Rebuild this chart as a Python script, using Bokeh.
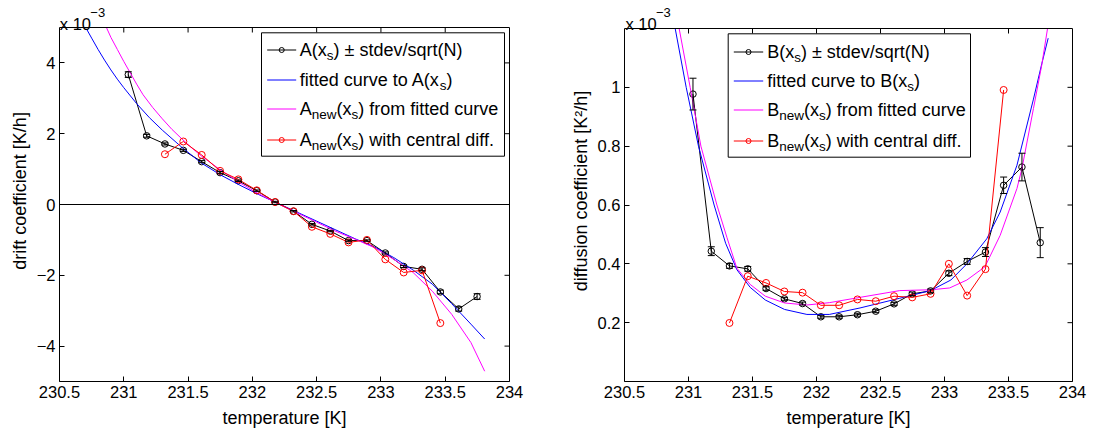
from bokeh.plotting import figure
from bokeh.models import (ColumnDataSource, Whisker, TeeHead, Span,
                          FixedTicker, LinearAxis, Range1d)
from bokeh.layouts import row
from bokeh.embed import file_html
from bokeh.resources import INLINE
from bokeh.core.properties import value

FONT = "Liberation Sans"
BLACK, BLUE, MAGENTA, RED = "#000000", "#0000ff", "#ff00ff", "#ff0000"

# ---------------- data (values in units of 1e-3) ----------------
x_s = [231.035, 231.178, 231.320, 231.463, 231.606, 231.749, 231.891, 232.034,
       232.177, 232.320, 232.463, 232.606, 232.748, 232.891, 233.034, 233.177,
       233.320, 233.462, 233.605, 233.748]

A_mean = [3.67, 1.94, 1.71, 1.53, 1.21, 0.90, 0.67, 0.39, 0.07, -0.19,
          -0.56, -0.75, -1.02, -1.02, -1.37, -1.75, -1.83, -2.47, -2.95, -2.60]
A_err = [0.08, 0.04, 0.03, 0.03, 0.03, 0.03, 0.02, 0.02, 0.02, 0.02,
         0.02, 0.02, 0.02, 0.02, 0.03, 0.03, 0.04, 0.05, 0.06, 0.08]
A_cd_x = x_s[2:18]
A_cd = [1.42, 1.78, 1.40, 0.95, 0.71, 0.40, 0.07, -0.19, -0.63, -0.83,
        -1.07, -1.00, -1.55, -1.92, -1.86, -3.35]

A_fit_x = [230.71, 230.75, 230.80, 230.85, 230.90, 230.95, 231.00, 231.10,
           231.20, 231.30, 231.45, 231.60, 231.75, 231.90, 232.05, 232.20,
           232.35, 232.50, 232.65, 232.80, 232.95, 233.10, 233.25, 233.40,
           233.55, 233.70, 233.807]
A_fit = [4.96, 4.70, 4.38, 4.08, 3.80, 3.54, 3.30, 2.85, 2.45, 2.10, 1.62,
         1.18, 0.84, 0.55, 0.28, 0.03, -0.22, -0.47, -0.72, -0.97, -1.20,
         -1.50, -1.85, -2.25, -2.80, -3.38, -3.80]

A_new_x = [230.865, 230.90, 230.95, 231.00, 231.05, 231.10, 231.15, 231.225,
           231.30, 231.375, 231.45, 231.525, 231.60, 231.75, 231.90, 232.05,
           232.20, 232.35, 232.50, 232.65, 232.80, 232.95, 233.10, 233.25,
           233.40, 233.55, 233.70, 233.807]
A_new = [5.00, 4.72, 4.38, 4.04, 3.72, 3.40, 3.10, 2.74, 2.42, 2.12, 1.86,
         1.61, 1.38, 0.98, 0.62, 0.30, 0.02, -0.24, -0.50, -0.76, -0.98,
         -1.22, -1.55, -1.92, -2.45, -3.10, -3.90, -4.71]

B_mean = [0.977, 0.443, 0.393, 0.383, 0.316, 0.281, 0.265, 0.220, 0.220, 0.227,
          0.239, 0.264, 0.298, 0.308, 0.368, 0.408, 0.440, 0.667, 0.729, 0.472]
B_err = [0.054, 0.015, 0.008, 0.008, 0.006, 0.005, 0.005, 0.005, 0.005, 0.005,
         0.005, 0.005, 0.006, 0.006, 0.008, 0.010, 0.015, 0.028, 0.047, 0.051]
B_cd_x = x_s[2:18]
B_cd = [0.199, 0.358, 0.335, 0.306, 0.302, 0.259, 0.259, 0.279, 0.273, 0.290,
        0.286, 0.298, 0.400, 0.292, 0.382, 0.991]

B_fit_x = [230.896, 230.982, 231.078, 231.20, 231.29, 231.378, 231.482, 231.60,
           231.75, 231.925, 232.10, 232.34, 232.65, 232.89, 233.05, 233.175,
           233.33, 233.435, 233.566, 233.695, 233.76, 233.81]
B_fit = [1.20, 1.00, 0.80, 0.60, 0.47, 0.38, 0.32, 0.277, 0.245, 0.228, 0.228,
         0.250, 0.283, 0.309, 0.345, 0.400, 0.485, 0.576, 0.735, 0.960, 1.080,
         1.167]

B_new_x = [230.927, 231.013, 231.097, 231.222, 231.30, 231.378, 231.482, 231.60,
           231.75, 231.925, 232.10, 232.34, 232.65, 232.90, 233.04, 233.175,
           233.316, 233.435, 233.566, 233.605, 233.695, 233.76, 233.805]
B_new = [1.20, 1.00, 0.80, 0.60, 0.49, 0.385, 0.33, 0.29, 0.267, 0.26, 0.268,
         0.286, 0.309, 0.312, 0.318, 0.345, 0.39, 0.497, 0.656, 0.724, 0.928,
         1.076, 1.20]

x_ticks = [230.5, 231, 231.5, 232, 232.5, 233, 233.5, 234]
x_tick_labels = ["230.5", "231", "231.5", "232", "232.5", "233", "233.5", "234"]
A_ticks = [-4, -2, 0, 2, 4]
A_tick_labels = ["\u22124", "\u22122", "0", "2", "4"]
B_ticks = [0.2, 0.4, 0.6, 0.8, 1.0]
B_tick_labels = ["0.2", "0.4", "0.6", "0.8", "1"]

x_label = "temperature [K]"
A_label = "drift coefficient [K/h]"
B_label = "diffusion coefficient [K\u00b2/h]"
exp_base = "x 10"
exp_power = "\u22123"

# legend rows: list of (text, is_subscript)
legend_A = [
    [("A(x", 0), ("s", 1), (") \u00b1 stdev/sqrt(N)", 0)],
    [("fitted curve to A(x", 0), ("s", 1), (")", 0)],
    [("A", 0), ("new", 1), ("(x", 0), ("s", 1), (") from fitted curve", 0)],
    [("A", 0), ("new", 1), ("(x", 0), ("s", 1), (") with central diff.", 0)],
]
legend_B = [
    [("B(x", 0), ("s", 1), (") \u00b1 stdev/sqrt(N)", 0)],
    [("fitted curve to B(x", 0), ("s", 1), (")", 0)],
    [("B", 0), ("new", 1), ("(x", 0), ("s", 1), (") from fitted curve", 0)],
    [("B", 0), ("new", 1), ("(x", 0), ("s", 1), (") with central diff.", 0)],
]
legend_styles = [(BLACK, True), (BLUE, False), (MAGENTA, False), (RED, True)]

# ---------------- helpers ----------------
W = {' ': 278, '(': 333, ')': 333, '.': 278, '/': 278, 'A': 667, 'B': 667,
     'N': 722, 'a': 556, 'c': 500, 'd': 556, 'e': 556, 'f': 278, 'h': 556,
     'i': 222, 'l': 222, 'm': 833, 'n': 556, 'o': 556, 'q': 556, 'r': 333,
     's': 500, 't': 278, 'u': 556, 'v': 500, 'w': 722, 'x': 500, '\u00b1': 549}


def tw(s, size):
    return sum(W.get(c, 556) for c in s) * size / 1000.0


XR = (230.5, 234.0)
PAGE_H = 429


class Panel:
    """Maps page pixels to data for one subplot."""

    def __init__(self, page_left, fig_w, frame_l, frame_r, box_t, box_b, yr):
        self.page_left = page_left
        self.fig_w = fig_w
        self.fl, self.fr, self.bt, self.bb = frame_l, frame_r, box_t, box_b
        self.yr = yr
        self.ppx = (frame_r - frame_l) / (XR[1] - XR[0])
        self.ppy = (box_b - box_t) / (yr[1] - yr[0])
        self.ytop = yr[1] + box_t / self.ppy   # frame reaches the page top

    def X(self, px):
        return XR[0] + (px - self.fl) / self.ppx

    def Y(self, py):
        return self.yr[0] + (self.bb - py) / self.ppy


def make_fig(P, ylabel, yticks, ylabels):
    fw = int(round(P.fr - P.fl))
    fh = int(round(P.bb))
    bl = int(round(P.fl - P.page_left))
    br = P.fig_w - bl - fw
    bb = PAGE_H - fh
    p = figure(x_range=Range1d(*XR), y_range=Range1d(P.yr[0], P.ytop),
               frame_width=fw, frame_height=fh,
               width=P.fig_w, height=PAGE_H,
               min_border_left=bl, min_border_right=br,
               min_border_top=0, min_border_bottom=bb,
               title=None, toolbar_location=None, tools="",
               output_backend="svg")
    p.xgrid.visible = False
    p.ygrid.visible = False
    p.outline_line_color = None
    p.background_fill_color = "white"
    p.border_fill_color = "white"

    def style(ax, ticks, labels):
        ax.ticker = FixedTicker(ticks=ticks)
        ax.axis_line_color = BLACK
        ax.major_tick_line_color = BLACK
        ax.major_tick_in = 5
        ax.major_tick_out = 0
        ax.minor_tick_in = 0
        ax.minor_tick_out = 0
        ax.minor_tick_line_color = None
        ax.major_label_overrides = {t: l for t, l in zip(ticks, labels)}
        ax.major_label_text_font = FONT
        ax.major_label_text_font_size = "16.5px"
        ax.major_label_text_color = BLACK
        ax.major_label_standoff = 4
        ax.axis_label_text_font = FONT
        ax.axis_label_text_font_size = "18px"
        ax.axis_label_text_font_style = "normal"
        ax.axis_label_text_color = BLACK

    style(p.xaxis[0], x_ticks, x_tick_labels)
    p.xaxis[0].axis_label = x_label
    p.xaxis[0].axis_label_standoff = 7
    style(p.yaxis[0], yticks, ylabels)
    p.yaxis[0].axis_label = ylabel
    p.yaxis[0].axis_label_standoff = 4
    p.yaxis[0].bounds = (P.yr[0], P.yr[1])

    # right edge of the box (no ticks, no labels)
    right = LinearAxis(ticker=FixedTicker(ticks=[]), bounds=(P.yr[0], P.yr[1]),
                       axis_line_color=BLACK, major_tick_line_color=None,
                       minor_tick_line_color=None)
    p.add_layout(right, "right")
    # top edge of the box
    p.add_layout(Span(location=P.yr[1], dimension="width",
                      line_color=BLACK, line_width=1))
    # mirrored inward ticks on top and right edges
    tl = 5.0
    p.segment(x0=x_ticks, x1=x_ticks, y0=[P.yr[1]] * len(x_ticks),
              y1=[P.yr[1] - tl / P.ppy] * len(x_ticks), line_color=BLACK,
              line_width=1)
    p.segment(x0=[XR[1]] * len(yticks), x1=[XR[1] - tl / P.ppx] * len(yticks),
              y0=yticks, y1=yticks, line_color=BLACK, line_width=1)
    return p


def add_series(p, means, errs, cd_x, cd, fit_x, fit, new_x, new):
    src = ColumnDataSource(dict(x=x_s, y=means,
                                upper=[m + e for m, e in zip(means, errs)],
                                lower=[m - e for m, e in zip(means, errs)]))
    p.add_layout(Whisker(source=src, base="x", upper="upper", lower="lower",
                         dimension="height", line_color=BLACK, line_width=1,
                         upper_head=TeeHead(size=7, line_color=BLACK, line_width=1),
                         lower_head=TeeHead(size=7, line_color=BLACK, line_width=1),
                         level="glyph"))
    p.line("x", "y", source=src, line_color=BLACK, line_width=1)
    p.scatter("x", "y", source=src, marker="circle", size=6.5,
              fill_color=None, line_color=BLACK, line_width=1)
    p.line(fit_x, fit, line_color=BLUE, line_width=1)
    p.line(new_x, new, line_color=MAGENTA, line_width=1)
    p.line(cd_x, cd, line_color=RED, line_width=1)
    p.scatter(cd_x, cd, marker="circle", size=7, fill_color=None,
              line_color=RED, line_width=1)


def add_text(p, P, px, py, txt, size):
    p.text(x=[P.X(px)], y=[P.Y(py)], text=[txt], text_font=value(FONT),
           text_font_size=value("%gpx" % size), text_color=BLACK,
           text_align="left", text_baseline="alphabetic")


def add_legend(p, P, box, samp, rows_y, text_x, rows):
    p.quad(left=[P.X(box[0])], right=[P.X(box[2])], top=[P.Y(box[1])],
           bottom=[P.Y(box[3])], fill_color="#ffffff", line_color=BLACK,
           line_width=1)
    for (color, marker), ry, pieces in zip(legend_styles, rows_y, rows):
        p.line([P.X(samp[0]), P.X(samp[1])], [P.Y(ry), P.Y(ry)],
               line_color=color, line_width=1)
        if marker:
            p.scatter([P.X((samp[0] + samp[1]) / 2)], [P.Y(ry)],
                      marker="circle", size=5, fill_color=None,
                      line_color=color, line_width=1)
        cx = text_x
        for txt, sub in pieces:
            size = 13.5 if sub else 18.0
            add_text(p, P, cx, ry + (5.5 if sub else 0.0), txt, size)
            cx += tw(txt, size)


def add_exponent(p, P, px):
    add_text(p, P, px, 23.3, exp_base, 16.5)
    add_text(p, P, px + 30.5, 11.7, exp_power, 13)


# ---------------- left figure ----------------
PA = Panel(0, 560, 59, 509, 27, 381, (-5.0, 5.0))
p1 = make_fig(PA, A_label, A_ticks, A_tick_labels)
p1.add_layout(Span(location=0, dimension="width", line_color=BLACK,
                   line_width=1))
add_series(p1, A_mean, A_err, A_cd_x, A_cd, A_fit_x, A_fit, A_new_x, A_new)
add_legend(p1, PA, (261, 32.3, 504, 155.7), (266.7, 295.7),
           [49.5, 79.5, 108.5, 139.5], 299.3, legend_A)
add_exponent(p1, PA, 59.3)

# ---------------- right figure ----------------
PB = Panel(560, 533, 624, 1072, 28, 381, (0.0, 1.2))
p2 = make_fig(PB, B_label, B_ticks, B_tick_labels)
add_series(p2, B_mean, B_err, B_cd_x, B_cd, B_fit_x, B_fit, B_new_x, B_new)
add_legend(p2, PB, (727.7, 33.3, 970, 156.7), (733.3, 762.7),
           [51.5, 80.5, 109.5, 140.5], 766.7, legend_B)
add_exponent(p2, PB, 625.0)

layout = row(p1, p2)
open("out.html", "w").write(file_html(layout, INLINE))
